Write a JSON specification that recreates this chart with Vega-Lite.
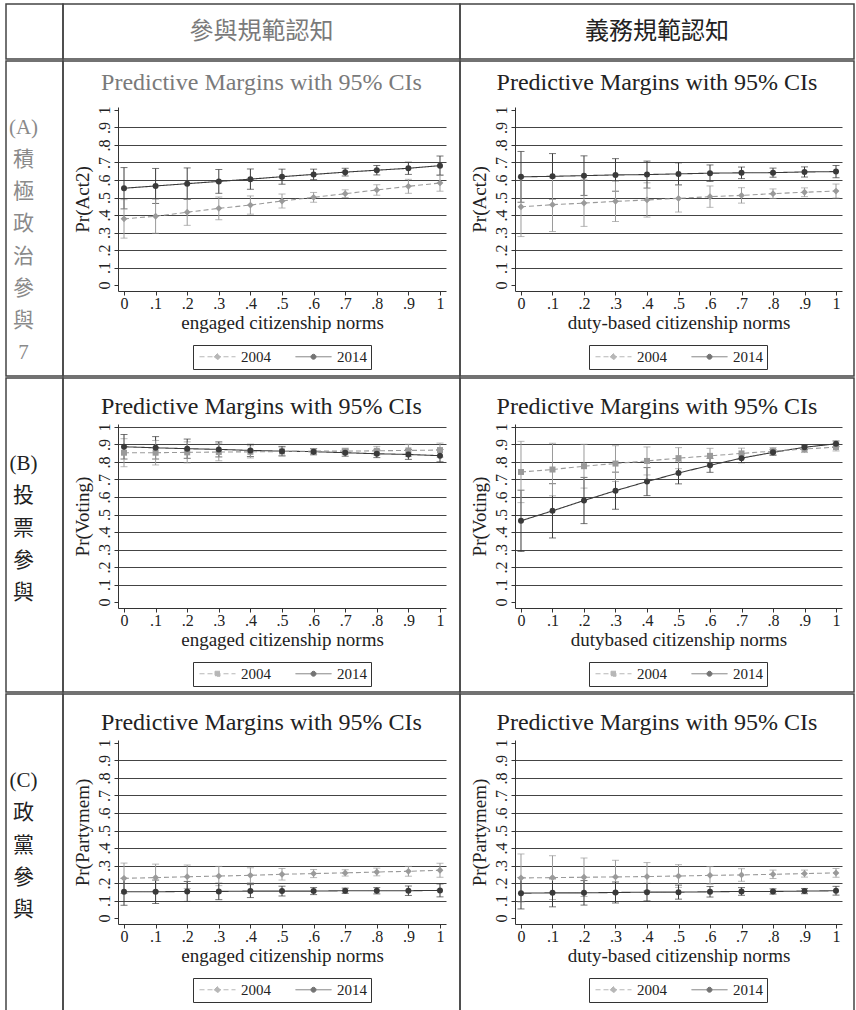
{
  "$schema": "https://vega.github.io/schema/vega-lite/v6.json",
  "padding": {"left": 5, "top": 3, "right": 0, "bottom": 0},
  "background": "white",
  "config": {
    "view": {"stroke": "#444", "strokeWidth": 1.5},
    "font": "Liberation Serif",
    "axis": {"labelFont": "Liberation Serif", "titleFont": "Liberation Serif", "labelFontSize": 16, "titleFontSize": 19, "titleFontWeight": "normal", "labelColor": "#222", "titleColor": "#222", "domainColor": "#333", "tickColor": "#333", "tickSize": 4, "gridColor": "#444", "gridWidth": 1.2, "domainWidth": 1},
    "title": {"font": "Liberation Serif", "fontSize": 24, "fontWeight": "normal", "color": "#222"}
  },
  "datasets": {
    "lab": [
      {"r": "A", "i": 0, "t": "(A)"}, {"r": "A", "i": 1, "t": "積"}, {"r": "A", "i": 2, "t": "極"}, {"r": "A", "i": 3, "t": "政"}, {"r": "A", "i": 4, "t": "治"}, {"r": "A", "i": 5, "t": "參"}, {"r": "A", "i": 6, "t": "與"}, {"r": "A", "i": 7, "t": "7"},
      {"r": "B", "i": 0, "t": "(B)"}, {"r": "B", "i": 1, "t": "投"}, {"r": "B", "i": 2, "t": "票"}, {"r": "B", "i": 3, "t": "參"}, {"r": "B", "i": 4, "t": "與"},
      {"r": "C", "i": 0, "t": "(C)"}, {"r": "C", "i": 1, "t": "政"}, {"r": "C", "i": 2, "t": "黨"}, {"r": "C", "i": 3, "t": "參"}, {"r": "C", "i": 4, "t": "與"}
    ],
    "pm": [
      {"p":"A1","y":"2014","x":0,"m":0.553,"lo":0.435,"hi":0.671},
      {"p":"A1","y":"2014","x":0.1,"m":0.566,"lo":0.466,"hi":0.666},
      {"p":"A1","y":"2014","x":0.2,"m":0.579,"lo":0.489,"hi":0.669},
      {"p":"A1","y":"2014","x":0.3,"m":0.592,"lo":0.524,"hi":0.660},
      {"p":"A1","y":"2014","x":0.4,"m":0.605,"lo":0.547,"hi":0.663},
      {"p":"A1","y":"2014","x":0.5,"m":0.619,"lo":0.576,"hi":0.662},
      {"p":"A1","y":"2014","x":0.6,"m":0.632,"lo":0.602,"hi":0.662},
      {"p":"A1","y":"2014","x":0.7,"m":0.645,"lo":0.623,"hi":0.667},
      {"p":"A1","y":"2014","x":0.8,"m":0.656,"lo":0.629,"hi":0.683},
      {"p":"A1","y":"2014","x":0.9,"m":0.667,"lo":0.632,"hi":0.702},
      {"p":"A1","y":"2014","x":1,"m":0.682,"lo":0.627,"hi":0.737},
      {"p":"A1","y":"2004","x":0,"m":0.378,"lo":0.268,"hi":0.488},
      {"p":"A1","y":"2004","x":0.1,"m":0.393,"lo":0.296,"hi":0.490},
      {"p":"A1","y":"2004","x":0.2,"m":0.416,"lo":0.341,"hi":0.491},
      {"p":"A1","y":"2004","x":0.3,"m":0.438,"lo":0.373,"hi":0.503},
      {"p":"A1","y":"2004","x":0.4,"m":0.457,"lo":0.405,"hi":0.509},
      {"p":"A1","y":"2004","x":0.5,"m":0.480,"lo":0.440,"hi":0.520},
      {"p":"A1","y":"2004","x":0.6,"m":0.501,"lo":0.473,"hi":0.529},
      {"p":"A1","y":"2004","x":0.7,"m":0.522,"lo":0.500,"hi":0.544},
      {"p":"A1","y":"2004","x":0.8,"m":0.543,"lo":0.513,"hi":0.573},
      {"p":"A1","y":"2004","x":0.9,"m":0.564,"lo":0.524,"hi":0.604},
      {"p":"A1","y":"2004","x":1,"m":0.583,"lo":0.536,"hi":0.630},
      {"p":"A2","y":"2014","x":0,"m":0.618,"lo":0.473,"hi":0.763},
      {"p":"A2","y":"2014","x":0.1,"m":0.621,"lo":0.491,"hi":0.751},
      {"p":"A2","y":"2014","x":0.2,"m":0.625,"lo":0.512,"hi":0.738},
      {"p":"A2","y":"2014","x":0.3,"m":0.629,"lo":0.536,"hi":0.722},
      {"p":"A2","y":"2014","x":0.4,"m":0.631,"lo":0.554,"hi":0.708},
      {"p":"A2","y":"2014","x":0.5,"m":0.635,"lo":0.572,"hi":0.698},
      {"p":"A2","y":"2014","x":0.6,"m":0.639,"lo":0.592,"hi":0.686},
      {"p":"A2","y":"2014","x":0.7,"m":0.641,"lo":0.608,"hi":0.674},
      {"p":"A2","y":"2014","x":0.8,"m":0.642,"lo":0.616,"hi":0.668},
      {"p":"A2","y":"2014","x":0.9,"m":0.646,"lo":0.617,"hi":0.675},
      {"p":"A2","y":"2014","x":1,"m":0.648,"lo":0.613,"hi":0.683},
      {"p":"A2","y":"2004","x":0,"m":0.447,"lo":0.277,"hi":0.617},
      {"p":"A2","y":"2004","x":0.1,"m":0.459,"lo":0.306,"hi":0.612},
      {"p":"A2","y":"2004","x":0.2,"m":0.468,"lo":0.335,"hi":0.601},
      {"p":"A2","y":"2004","x":0.3,"m":0.478,"lo":0.363,"hi":0.593},
      {"p":"A2","y":"2004","x":0.4,"m":0.486,"lo":0.388,"hi":0.584},
      {"p":"A2","y":"2004","x":0.5,"m":0.495,"lo":0.417,"hi":0.573},
      {"p":"A2","y":"2004","x":0.6,"m":0.505,"lo":0.444,"hi":0.566},
      {"p":"A2","y":"2004","x":0.7,"m":0.512,"lo":0.468,"hi":0.556},
      {"p":"A2","y":"2004","x":0.8,"m":0.522,"lo":0.495,"hi":0.549},
      {"p":"A2","y":"2004","x":0.9,"m":0.530,"lo":0.505,"hi":0.555},
      {"p":"A2","y":"2004","x":1,"m":0.537,"lo":0.497,"hi":0.577},
      {"p":"B1","y":"2014","x":0,"m":0.887,"lo":0.817,"hi":0.957},
      {"p":"B1","y":"2014","x":0.1,"m":0.881,"lo":0.817,"hi":0.945},
      {"p":"B1","y":"2014","x":0.2,"m":0.876,"lo":0.821,"hi":0.931},
      {"p":"B1","y":"2014","x":0.3,"m":0.872,"lo":0.829,"hi":0.915},
      {"p":"B1","y":"2014","x":0.4,"m":0.866,"lo":0.831,"hi":0.901},
      {"p":"B1","y":"2014","x":0.5,"m":0.862,"lo":0.835,"hi":0.889},
      {"p":"B1","y":"2014","x":0.6,"m":0.859,"lo":0.841,"hi":0.877},
      {"p":"B1","y":"2014","x":0.7,"m":0.853,"lo":0.833,"hi":0.873},
      {"p":"B1","y":"2014","x":0.8,"m":0.847,"lo":0.825,"hi":0.869},
      {"p":"B1","y":"2014","x":0.9,"m":0.843,"lo":0.815,"hi":0.871},
      {"p":"B1","y":"2014","x":1,"m":0.836,"lo":0.801,"hi":0.871},
      {"p":"B1","y":"2004","x":0,"m":0.853,"lo":0.773,"hi":0.933},
      {"p":"B1","y":"2004","x":0.1,"m":0.853,"lo":0.783,"hi":0.923},
      {"p":"B1","y":"2004","x":0.2,"m":0.855,"lo":0.795,"hi":0.915},
      {"p":"B1","y":"2004","x":0.3,"m":0.857,"lo":0.807,"hi":0.907},
      {"p":"B1","y":"2004","x":0.4,"m":0.858,"lo":0.823,"hi":0.893},
      {"p":"B1","y":"2004","x":0.5,"m":0.860,"lo":0.835,"hi":0.885},
      {"p":"B1","y":"2004","x":0.6,"m":0.862,"lo":0.847,"hi":0.877},
      {"p":"B1","y":"2004","x":0.7,"m":0.862,"lo":0.845,"hi":0.879},
      {"p":"B1","y":"2004","x":0.8,"m":0.864,"lo":0.839,"hi":0.889},
      {"p":"B1","y":"2004","x":0.9,"m":0.866,"lo":0.831,"hi":0.901},
      {"p":"B1","y":"2004","x":1,"m":0.868,"lo":0.828,"hi":0.908},
      {"p":"B2","y":"2014","x":0,"m":0.464,"lo":0.289,"hi":0.639},
      {"p":"B2","y":"2014","x":0.1,"m":0.521,"lo":0.366,"hi":0.676},
      {"p":"B2","y":"2014","x":0.2,"m":0.580,"lo":0.448,"hi":0.712},
      {"p":"B2","y":"2014","x":0.3,"m":0.636,"lo":0.530,"hi":0.742},
      {"p":"B2","y":"2014","x":0.4,"m":0.688,"lo":0.608,"hi":0.768},
      {"p":"B2","y":"2014","x":0.5,"m":0.737,"lo":0.675,"hi":0.799},
      {"p":"B2","y":"2014","x":0.6,"m":0.781,"lo":0.741,"hi":0.821},
      {"p":"B2","y":"2014","x":0.7,"m":0.822,"lo":0.796,"hi":0.848},
      {"p":"B2","y":"2014","x":0.8,"m":0.855,"lo":0.838,"hi":0.872},
      {"p":"B2","y":"2014","x":0.9,"m":0.884,"lo":0.871,"hi":0.897},
      {"p":"B2","y":"2014","x":1,"m":0.904,"lo":0.888,"hi":0.920},
      {"p":"B2","y":"2004","x":0,"m":0.743,"lo":0.568,"hi":0.918},
      {"p":"B2","y":"2004","x":0.1,"m":0.757,"lo":0.607,"hi":0.907},
      {"p":"B2","y":"2004","x":0.2,"m":0.776,"lo":0.651,"hi":0.901},
      {"p":"B2","y":"2004","x":0.3,"m":0.791,"lo":0.689,"hi":0.893},
      {"p":"B2","y":"2004","x":0.4,"m":0.806,"lo":0.726,"hi":0.886},
      {"p":"B2","y":"2004","x":0.5,"m":0.822,"lo":0.762,"hi":0.882},
      {"p":"B2","y":"2004","x":0.6,"m":0.835,"lo":0.792,"hi":0.878},
      {"p":"B2","y":"2004","x":0.7,"m":0.849,"lo":0.819,"hi":0.879},
      {"p":"B2","y":"2004","x":0.8,"m":0.862,"lo":0.842,"hi":0.882},
      {"p":"B2","y":"2004","x":0.9,"m":0.874,"lo":0.854,"hi":0.894},
      {"p":"B2","y":"2004","x":1,"m":0.885,"lo":0.863,"hi":0.907},
      {"p":"C1","y":"2004","x":0,"m":0.227,"lo":0.140,"hi":0.314},
      {"p":"C1","y":"2004","x":0.1,"m":0.231,"lo":0.154,"hi":0.308},
      {"p":"C1","y":"2004","x":0.2,"m":0.236,"lo":0.169,"hi":0.303},
      {"p":"C1","y":"2004","x":0.3,"m":0.240,"lo":0.185,"hi":0.295},
      {"p":"C1","y":"2004","x":0.4,"m":0.244,"lo":0.201,"hi":0.287},
      {"p":"C1","y":"2004","x":0.5,"m":0.250,"lo":0.217,"hi":0.283},
      {"p":"C1","y":"2004","x":0.6,"m":0.254,"lo":0.231,"hi":0.277},
      {"p":"C1","y":"2004","x":0.7,"m":0.258,"lo":0.240,"hi":0.276},
      {"p":"C1","y":"2004","x":0.8,"m":0.263,"lo":0.241,"hi":0.285},
      {"p":"C1","y":"2004","x":0.9,"m":0.267,"lo":0.239,"hi":0.295},
      {"p":"C1","y":"2004","x":1,"m":0.273,"lo":0.233,"hi":0.313},
      {"p":"C1","y":"2014","x":0,"m":0.150,"lo":0.073,"hi":0.227},
      {"p":"C1","y":"2014","x":0.1,"m":0.150,"lo":0.083,"hi":0.217},
      {"p":"C1","y":"2014","x":0.2,"m":0.152,"lo":0.095,"hi":0.209},
      {"p":"C1","y":"2014","x":0.3,"m":0.152,"lo":0.105,"hi":0.199},
      {"p":"C1","y":"2014","x":0.4,"m":0.154,"lo":0.117,"hi":0.191},
      {"p":"C1","y":"2014","x":0.5,"m":0.154,"lo":0.126,"hi":0.182},
      {"p":"C1","y":"2014","x":0.6,"m":0.154,"lo":0.134,"hi":0.174},
      {"p":"C1","y":"2014","x":0.7,"m":0.156,"lo":0.141,"hi":0.171},
      {"p":"C1","y":"2014","x":0.8,"m":0.156,"lo":0.138,"hi":0.174},
      {"p":"C1","y":"2014","x":0.9,"m":0.156,"lo":0.129,"hi":0.183},
      {"p":"C1","y":"2014","x":1,"m":0.158,"lo":0.121,"hi":0.195},
      {"p":"C2","y":"2004","x":0,"m":0.229,"lo":0.092,"hi":0.366},
      {"p":"C2","y":"2004","x":0.1,"m":0.231,"lo":0.106,"hi":0.356},
      {"p":"C2","y":"2004","x":0.2,"m":0.233,"lo":0.123,"hi":0.343},
      {"p":"C2","y":"2004","x":0.3,"m":0.235,"lo":0.140,"hi":0.330},
      {"p":"C2","y":"2004","x":0.4,"m":0.237,"lo":0.157,"hi":0.317},
      {"p":"C2","y":"2004","x":0.5,"m":0.240,"lo":0.175,"hi":0.305},
      {"p":"C2","y":"2004","x":0.6,"m":0.244,"lo":0.194,"hi":0.294},
      {"p":"C2","y":"2004","x":0.7,"m":0.246,"lo":0.210,"hi":0.282},
      {"p":"C2","y":"2004","x":0.8,"m":0.250,"lo":0.226,"hi":0.274},
      {"p":"C2","y":"2004","x":0.9,"m":0.254,"lo":0.234,"hi":0.274},
      {"p":"C2","y":"2004","x":1,"m":0.258,"lo":0.233,"hi":0.283},
      {"p":"C2","y":"2014","x":0,"m":0.142,"lo":0.052,"hi":0.232},
      {"p":"C2","y":"2014","x":0.1,"m":0.144,"lo":0.064,"hi":0.224},
      {"p":"C2","y":"2014","x":0.2,"m":0.144,"lo":0.074,"hi":0.214},
      {"p":"C2","y":"2014","x":0.3,"m":0.146,"lo":0.086,"hi":0.206},
      {"p":"C2","y":"2014","x":0.4,"m":0.148,"lo":0.098,"hi":0.198},
      {"p":"C2","y":"2014","x":0.5,"m":0.148,"lo":0.108,"hi":0.188},
      {"p":"C2","y":"2014","x":0.6,"m":0.150,"lo":0.120,"hi":0.180},
      {"p":"C2","y":"2014","x":0.7,"m":0.152,"lo":0.130,"hi":0.174},
      {"p":"C2","y":"2014","x":0.8,"m":0.152,"lo":0.137,"hi":0.167},
      {"p":"C2","y":"2014","x":0.9,"m":0.154,"lo":0.139,"hi":0.169},
      {"p":"C2","y":"2014","x":1,"m":0.156,"lo":0.131,"hi":0.181}
    ]
  },
  "spacing": 0,
  "resolve": {"scale": {"color": "independent", "stroke": "independent", "shape": "independent", "strokeDash": "independent"}, "legend": {"color": "independent", "stroke": "independent", "shape": "independent", "strokeDash": "independent"}},
  "vconcat": [
    {
      "spacing": 0, "bounds": "flush",
      "hconcat": [
        {"width": 57, "height": 55, "data": {"values": [{"t": ""}]}, "mark": {"type": "text"}, "encoding": {"y": {"datum": 0, "type": "quantitative", "scale": {"domain": [-1, 1]}, "axis": null}, "text": {"field": "t"}}},
        {"width": 397, "height": 55, "data": {"values": [{"t": "參與規範認知"}]}, "mark": {"type": "text", "font": "Noto Sans CJK TC", "fontSize": 24, "color": "#7a7a7a", "baseline": "middle"}, "encoding": {"y": {"datum": 0, "type": "quantitative", "scale": {"domain": [-1, 1]}, "axis": null}, "text": {"field": "t"}}},
        {"width": 394, "height": 55, "data": {"values": [{"t": "義務規範認知"}]}, "mark": {"type": "text", "font": "Noto Sans CJK TC", "fontSize": 24, "color": "#222", "baseline": "middle"}, "encoding": {"y": {"datum": 0, "type": "quantitative", "scale": {"domain": [-1, 1]}, "axis": null}, "text": {"field": "t"}}}
      ]
    },
    {
      "spacing": 0, "bounds": "flush",
      "resolve": {"scale": {"color": "independent", "stroke": "independent", "shape": "independent", "strokeDash": "independent"}, "legend": {"color": "independent", "stroke": "independent", "shape": "independent", "strokeDash": "independent"}},
      "hconcat": [
        {"width": 57, "height": 315, "data": {"name": "lab"}, "transform": [{"filter": "datum.r == 'A'"}],
         "mark": {"type": "text", "font": "Liberation Serif, 'Noto Sans CJK TC'", "fontSize": 21, "color": "#8a8a8a", "baseline": "middle", "dx": -11},
         "encoding": {"y": {"field": "i", "type": "quantitative", "scale": {"domain": [0, 7], "range": [67, 292], "nice": false, "zero": false}, "axis": null}, "text": {"field": "t"}}},
        {"width": 397, "height": 315, "data": {"name": "pm"}, "transform": [{"filter": "datum.p == 'A1'"}],
         "title": {"text": "Predictive Margins with 95% CIs", "offset": -34, "color": "#7a7a7a"},
         "encoding": {
           "x": {"field": "x", "type": "quantitative", "title": "engaged citizenship norms", "scale": {"domain": [-0.019, 1.019], "range": [55, 383], "nice": false, "zero": false}, "axis": {"offset": -85, "values": [0,0.1,0.2,0.3,0.4,0.5,0.6,0.7,0.8,0.9,1], "labelExpr": "datum.value == 0 ? '0' : datum.value == 1 ? '1' : '.' + round(datum.value * 10)", "grid": false, "labelPadding": 0, "titlePadding": 2, "labelAngle": 0}},
           "y": {"field": "m", "type": "quantitative", "title": "Pr(Act2)", "scale": {"domain": [-0.034, 1.017], "range": [230, 46], "nice": false, "zero": false}, "axis": {"offset": -55, "values": [0,0.1,0.2,0.3,0.4,0.5,0.6,0.7,0.8,0.9,1], "labelExpr": "datum.value == 0 ? '0' : datum.value == 1 ? '1' : '.' + round(datum.value * 10)", "labelAngle": -90, "labelAlign": "center", "labelBaseline": "bottom", "labelPadding": 2, "titlePadding": 4, "grid": true, "gridColor": {"condition": {"test": "datum.value < 0.05 || datum.value > 0.95", "value": "transparent"}, "value": "#444"}}},
           "color": {"field": "y", "type": "nominal", "scale": {"domain": ["2004", "2014"], "range": ["#9a9a9a", "#3a3a3a"]},
             "legend": {"orient": "none", "legendX": 130, "legendY": 284, "direction": "horizontal", "title": null, "strokeColor": "#333", "padding": 4, "symbolSize": 100, "symbolOffset": 13, "labelOffset": 16, "labelFont": "Liberation Serif", "labelFontSize": 15, "labelColor": "#222", "columnPadding": 22, "symbolStrokeWidth": 1}}
         },
         "layer": [
           {"mark": {"type": "errorbar", "ticks": {"size": 7}, "thickness": 1}, "encoding": {"y": {"field": "lo", "type": "quantitative", "title": "Pr(Act2)"}, "y2": {"field": "hi"}}},
           {"mark": {"type": "line", "strokeWidth": 1.1}, "encoding": {"strokeDash": {"field": "y", "type": "nominal", "scale": {"domain": ["2004", "2014"], "range": [[5, 3], [1, 0]]}, "legend": null}}},
           {"transform": [{"filter": "datum.y == '2004'"}], "mark": {"type": "point", "filled": true, "opacity": 1, "size": 46, "shape": "diamond"}},
           {"transform": [{"filter": "datum.y == '2014'"}], "mark": {"type": "point", "filled": true, "opacity": 1, "size": 36, "shape": "circle"}},
           {"transform": [{"filter": "datum.x == 0"}], "mark": {"type": "point", "filled": true, "size": 1, "opacity": 1},
            "encoding": {
              "stroke": {"field": "y", "type": "nominal", "scale": {"domain": ["2004", "2014"], "range": ["#9a9a9a", "#3a3a3a"]}, "legend": {"orient": "none", "legendX": 130, "legendY": 284, "direction": "horizontal", "title": null, "strokeColor": "#333", "padding": 4, "symbolSize": 100, "symbolOffset": 13, "labelOffset": 16, "labelFont": "Liberation Serif", "labelFontSize": 15, "labelColor": "#222", "columnPadding": 22, "symbolStrokeWidth": 1}},
              "shape": {"field": "y", "type": "nominal", "scale": {"domain": ["2004", "2014"], "range": ["M-3.6,0H3.6M-0.65,0L0,-0.65L0.65,0L0,0.65Z", "M-3.6,0H3.6M0.5,0A0.5,0.5,0,1,1,-0.5,0A0.5,0.5,0,1,1,0.5,0Z"]}, "legend": {"orient": "none", "legendX": 130, "legendY": 284, "direction": "horizontal", "title": null, "strokeColor": "#333", "padding": 4, "symbolSize": 100, "symbolOffset": 13, "labelOffset": 16, "labelFont": "Liberation Serif", "labelFontSize": 15, "labelColor": "#222", "columnPadding": 22, "symbolStrokeWidth": 1}},
              "strokeDash": {"field": "y", "type": "nominal", "scale": {"domain": ["2004", "2014"], "range": [[5, 3], [1, 0]]}, "legend": {"orient": "none", "legendX": 130, "legendY": 284, "direction": "horizontal", "title": null, "strokeColor": "#333", "padding": 4, "symbolSize": 100, "symbolOffset": 13, "labelOffset": 16, "labelFont": "Liberation Serif", "labelFontSize": 15, "labelColor": "#222", "columnPadding": 22, "symbolStrokeWidth": 1}}
            }}
         ]
        },
        {"width": 394, "height": 315, "data": {"name": "pm"}, "transform": [{"filter": "datum.p == 'A2'"}],
         "title": {"text": "Predictive Margins with 95% CIs", "offset": -34},
         "encoding": {
           "x": {"field": "x", "type": "quantitative", "title": "duty-based citizenship norms", "scale": {"domain": [-0.019, 1.019], "range": [55, 382], "nice": false, "zero": false}, "axis": {"offset": -85, "values": [0,0.1,0.2,0.3,0.4,0.5,0.6,0.7,0.8,0.9,1], "labelExpr": "datum.value == 0 ? '0' : datum.value == 1 ? '1' : '.' + round(datum.value * 10)", "grid": false, "labelPadding": 0, "titlePadding": 2, "labelAngle": 0}},
           "y": {"field": "m", "type": "quantitative", "title": "Pr(Act2)", "scale": {"domain": [-0.034, 1.017], "range": [230, 46], "nice": false, "zero": false}, "axis": {"offset": -55, "values": [0,0.1,0.2,0.3,0.4,0.5,0.6,0.7,0.8,0.9,1], "labelExpr": "datum.value == 0 ? '0' : datum.value == 1 ? '1' : '.' + round(datum.value * 10)", "labelAngle": -90, "labelAlign": "center", "labelBaseline": "bottom", "labelPadding": 2, "titlePadding": 4, "grid": true, "gridColor": {"condition": {"test": "datum.value < 0.05 || datum.value > 0.95", "value": "transparent"}, "value": "#444"}}},
           "color": {"field": "y", "type": "nominal", "scale": {"domain": ["2004", "2014"], "range": ["#9a9a9a", "#3a3a3a"]},
             "legend": {"orient": "none", "legendX": 129, "legendY": 284, "direction": "horizontal", "title": null, "strokeColor": "#333", "padding": 4, "symbolSize": 100, "symbolOffset": 13, "labelOffset": 16, "labelFont": "Liberation Serif", "labelFontSize": 15, "labelColor": "#222", "columnPadding": 22, "symbolStrokeWidth": 1}}
         },
         "layer": [
           {"mark": {"type": "errorbar", "ticks": {"size": 7}, "thickness": 1}, "encoding": {"y": {"field": "lo", "type": "quantitative", "title": "Pr(Act2)"}, "y2": {"field": "hi"}}},
           {"mark": {"type": "line", "strokeWidth": 1.1}, "encoding": {"strokeDash": {"field": "y", "type": "nominal", "scale": {"domain": ["2004", "2014"], "range": [[5, 3], [1, 0]]}, "legend": null}}},
           {"transform": [{"filter": "datum.y == '2004'"}], "mark": {"type": "point", "filled": true, "opacity": 1, "size": 46, "shape": "diamond"}},
           {"transform": [{"filter": "datum.y == '2014'"}], "mark": {"type": "point", "filled": true, "opacity": 1, "size": 36, "shape": "circle"}},
           {"transform": [{"filter": "datum.x == 0"}], "mark": {"type": "point", "filled": true, "size": 1, "opacity": 1},
            "encoding": {
              "stroke": {"field": "y", "type": "nominal", "scale": {"domain": ["2004", "2014"], "range": ["#9a9a9a", "#3a3a3a"]}, "legend": {"orient": "none", "legendX": 129, "legendY": 284, "direction": "horizontal", "title": null, "strokeColor": "#333", "padding": 4, "symbolSize": 100, "symbolOffset": 13, "labelOffset": 16, "labelFont": "Liberation Serif", "labelFontSize": 15, "labelColor": "#222", "columnPadding": 22, "symbolStrokeWidth": 1}},
              "shape": {"field": "y", "type": "nominal", "scale": {"domain": ["2004", "2014"], "range": ["M-3.6,0H3.6M-0.65,0L0,-0.65L0.65,0L0,0.65Z", "M-3.6,0H3.6M0.5,0A0.5,0.5,0,1,1,-0.5,0A0.5,0.5,0,1,1,0.5,0Z"]}, "legend": {"orient": "none", "legendX": 129, "legendY": 284, "direction": "horizontal", "title": null, "strokeColor": "#333", "padding": 4, "symbolSize": 100, "symbolOffset": 13, "labelOffset": 16, "labelFont": "Liberation Serif", "labelFontSize": 15, "labelColor": "#222", "columnPadding": 22, "symbolStrokeWidth": 1}},
              "strokeDash": {"field": "y", "type": "nominal", "scale": {"domain": ["2004", "2014"], "range": [[5, 3], [1, 0]]}, "legend": {"orient": "none", "legendX": 129, "legendY": 284, "direction": "horizontal", "title": null, "strokeColor": "#333", "padding": 4, "symbolSize": 100, "symbolOffset": 13, "labelOffset": 16, "labelFont": "Liberation Serif", "labelFontSize": 15, "labelColor": "#222", "columnPadding": 22, "symbolStrokeWidth": 1}}
            }}
         ]
        }
      ]
    },
    {
      "spacing": 0, "bounds": "flush",
      "resolve": {"scale": {"color": "independent", "stroke": "independent", "shape": "independent", "strokeDash": "independent"}, "legend": {"color": "independent", "stroke": "independent", "shape": "independent", "strokeDash": "independent"}},
      "hconcat": [
        {"width": 57, "height": 314, "data": {"name": "lab"}, "transform": [{"filter": "datum.r == 'B'"}],
         "mark": {"type": "text", "font": "Liberation Serif, 'Noto Sans CJK TC'", "fontSize": 21, "color": "#222", "baseline": "middle", "dx": -11},
         "encoding": {"y": {"field": "i", "type": "quantitative", "scale": {"domain": [0, 4], "range": [86, 215], "nice": false, "zero": false}, "axis": null}, "text": {"field": "t"}}},
        {"width": 397, "height": 314, "data": {"name": "pm"}, "transform": [{"filter": "datum.p == 'B1'"}],
         "title": {"text": "Predictive Margins with 95% CIs", "offset": -41},
         "encoding": {
           "x": {"field": "x", "type": "quantitative", "title": "engaged citizenship norms", "scale": {"domain": [-0.019, 1.019], "range": [55, 383], "nice": false, "zero": false}, "axis": {"offset": -84, "values": [0,0.1,0.2,0.3,0.4,0.5,0.6,0.7,0.8,0.9,1], "labelExpr": "datum.value == 0 ? '0' : datum.value == 1 ? '1' : '.' + round(datum.value * 10)", "grid": false, "labelPadding": 0, "titlePadding": 2, "labelAngle": 0}},
           "y": {"field": "m", "type": "quantitative", "title": "Pr(Voting)", "scale": {"domain": [-0.034, 1.017], "range": [230, 46], "nice": false, "zero": false}, "axis": {"offset": -55, "values": [0,0.1,0.2,0.3,0.4,0.5,0.6,0.7,0.8,0.9,1], "labelExpr": "datum.value == 0 ? '0' : datum.value == 1 ? '1' : '.' + round(datum.value * 10)", "labelAngle": -90, "labelAlign": "center", "labelBaseline": "bottom", "labelPadding": 2, "titlePadding": 4, "grid": true, "gridColor": {"condition": {"test": "datum.value < 0.05", "value": "transparent"}, "value": "#444"}}},
           "color": {"field": "y", "type": "nominal", "scale": {"domain": ["2004", "2014"], "range": ["#9a9a9a", "#3a3a3a"]},
             "legend": {"orient": "none", "legendX": 130, "legendY": 284, "direction": "horizontal", "title": null, "strokeColor": "#333", "padding": 4, "symbolSize": 100, "symbolOffset": 13, "labelOffset": 16, "labelFont": "Liberation Serif", "labelFontSize": 15, "labelColor": "#222", "columnPadding": 22, "symbolStrokeWidth": 1}}
         },
         "layer": [
           {"mark": {"type": "errorbar", "ticks": {"size": 7}, "thickness": 1}, "encoding": {"y": {"field": "lo", "type": "quantitative", "title": "Pr(Voting)"}, "y2": {"field": "hi"}}},
           {"mark": {"type": "line", "strokeWidth": 1.1}, "encoding": {"strokeDash": {"field": "y", "type": "nominal", "scale": {"domain": ["2004", "2014"], "range": [[5, 3], [1, 0]]}, "legend": null}}},
           {"transform": [{"filter": "datum.y == '2004'"}], "mark": {"type": "point", "filled": true, "opacity": 1, "size": 36, "shape": "square"}},
           {"transform": [{"filter": "datum.y == '2014'"}], "mark": {"type": "point", "filled": true, "opacity": 1, "size": 36, "shape": "circle"}},
           {"transform": [{"filter": "datum.x == 0"}], "mark": {"type": "point", "filled": true, "size": 1, "opacity": 1},
            "encoding": {
              "stroke": {"field": "y", "type": "nominal", "scale": {"domain": ["2004", "2014"], "range": ["#9a9a9a", "#3a3a3a"]}, "legend": {"orient": "none", "legendX": 130, "legendY": 284, "direction": "horizontal", "title": null, "strokeColor": "#333", "padding": 4, "symbolSize": 100, "symbolOffset": 13, "labelOffset": 16, "labelFont": "Liberation Serif", "labelFontSize": 15, "labelColor": "#222", "columnPadding": 22, "symbolStrokeWidth": 1}},
              "shape": {"field": "y", "type": "nominal", "scale": {"domain": ["2004", "2014"], "range": ["M-3.6,0H3.6M-0.5,-0.5H0.5V0.5H-0.5Z", "M-3.6,0H3.6M0.5,0A0.5,0.5,0,1,1,-0.5,0A0.5,0.5,0,1,1,0.5,0Z"]}, "legend": {"orient": "none", "legendX": 130, "legendY": 284, "direction": "horizontal", "title": null, "strokeColor": "#333", "padding": 4, "symbolSize": 100, "symbolOffset": 13, "labelOffset": 16, "labelFont": "Liberation Serif", "labelFontSize": 15, "labelColor": "#222", "columnPadding": 22, "symbolStrokeWidth": 1}},
              "strokeDash": {"field": "y", "type": "nominal", "scale": {"domain": ["2004", "2014"], "range": [[5, 3], [1, 0]]}, "legend": {"orient": "none", "legendX": 130, "legendY": 284, "direction": "horizontal", "title": null, "strokeColor": "#333", "padding": 4, "symbolSize": 100, "symbolOffset": 13, "labelOffset": 16, "labelFont": "Liberation Serif", "labelFontSize": 15, "labelColor": "#222", "columnPadding": 22, "symbolStrokeWidth": 1}}
            }}
         ]
        },
        {"width": 394, "height": 314, "data": {"name": "pm"}, "transform": [{"filter": "datum.p == 'B2'"}],
         "title": {"text": "Predictive Margins with 95% CIs", "offset": -41},
         "encoding": {
           "x": {"field": "x", "type": "quantitative", "title": "dutybased citizenship norms", "scale": {"domain": [-0.019, 1.019], "range": [55, 382], "nice": false, "zero": false}, "axis": {"offset": -84, "values": [0,0.1,0.2,0.3,0.4,0.5,0.6,0.7,0.8,0.9,1], "labelExpr": "datum.value == 0 ? '0' : datum.value == 1 ? '1' : '.' + round(datum.value * 10)", "grid": false, "labelPadding": 0, "titlePadding": 2, "labelAngle": 0}},
           "y": {"field": "m", "type": "quantitative", "title": "Pr(Voting)", "scale": {"domain": [-0.034, 1.017], "range": [230, 46], "nice": false, "zero": false}, "axis": {"offset": -55, "values": [0,0.1,0.2,0.3,0.4,0.5,0.6,0.7,0.8,0.9,1], "labelExpr": "datum.value == 0 ? '0' : datum.value == 1 ? '1' : '.' + round(datum.value * 10)", "labelAngle": -90, "labelAlign": "center", "labelBaseline": "bottom", "labelPadding": 2, "titlePadding": 4, "grid": true, "gridColor": {"condition": {"test": "datum.value < 0.05", "value": "transparent"}, "value": "#444"}}},
           "color": {"field": "y", "type": "nominal", "scale": {"domain": ["2004", "2014"], "range": ["#9a9a9a", "#3a3a3a"]},
             "legend": {"orient": "none", "legendX": 129, "legendY": 284, "direction": "horizontal", "title": null, "strokeColor": "#333", "padding": 4, "symbolSize": 100, "symbolOffset": 13, "labelOffset": 16, "labelFont": "Liberation Serif", "labelFontSize": 15, "labelColor": "#222", "columnPadding": 22, "symbolStrokeWidth": 1}}
         },
         "layer": [
           {"mark": {"type": "errorbar", "ticks": {"size": 7}, "thickness": 1}, "encoding": {"y": {"field": "lo", "type": "quantitative", "title": "Pr(Voting)"}, "y2": {"field": "hi"}}},
           {"mark": {"type": "line", "strokeWidth": 1.1}, "encoding": {"strokeDash": {"field": "y", "type": "nominal", "scale": {"domain": ["2004", "2014"], "range": [[5, 3], [1, 0]]}, "legend": null}}},
           {"transform": [{"filter": "datum.y == '2004'"}], "mark": {"type": "point", "filled": true, "opacity": 1, "size": 36, "shape": "square"}},
           {"transform": [{"filter": "datum.y == '2014'"}], "mark": {"type": "point", "filled": true, "opacity": 1, "size": 36, "shape": "circle"}},
           {"transform": [{"filter": "datum.x == 0"}], "mark": {"type": "point", "filled": true, "size": 1, "opacity": 1},
            "encoding": {
              "stroke": {"field": "y", "type": "nominal", "scale": {"domain": ["2004", "2014"], "range": ["#9a9a9a", "#3a3a3a"]}, "legend": {"orient": "none", "legendX": 129, "legendY": 284, "direction": "horizontal", "title": null, "strokeColor": "#333", "padding": 4, "symbolSize": 100, "symbolOffset": 13, "labelOffset": 16, "labelFont": "Liberation Serif", "labelFontSize": 15, "labelColor": "#222", "columnPadding": 22, "symbolStrokeWidth": 1}},
              "shape": {"field": "y", "type": "nominal", "scale": {"domain": ["2004", "2014"], "range": ["M-3.6,0H3.6M-0.5,-0.5H0.5V0.5H-0.5Z", "M-3.6,0H3.6M0.5,0A0.5,0.5,0,1,1,-0.5,0A0.5,0.5,0,1,1,0.5,0Z"]}, "legend": {"orient": "none", "legendX": 129, "legendY": 284, "direction": "horizontal", "title": null, "strokeColor": "#333", "padding": 4, "symbolSize": 100, "symbolOffset": 13, "labelOffset": 16, "labelFont": "Liberation Serif", "labelFontSize": 15, "labelColor": "#222", "columnPadding": 22, "symbolStrokeWidth": 1}},
              "strokeDash": {"field": "y", "type": "nominal", "scale": {"domain": ["2004", "2014"], "range": [[5, 3], [1, 0]]}, "legend": {"orient": "none", "legendX": 129, "legendY": 284, "direction": "horizontal", "title": null, "strokeColor": "#333", "padding": 4, "symbolSize": 100, "symbolOffset": 13, "labelOffset": 16, "labelFont": "Liberation Serif", "labelFontSize": 15, "labelColor": "#222", "columnPadding": 22, "symbolStrokeWidth": 1}}
            }}
         ]
        }
      ]
    },
    {
      "spacing": 0, "bounds": "flush",
      "resolve": {"scale": {"color": "independent", "stroke": "independent", "shape": "independent", "strokeDash": "independent"}, "legend": {"color": "independent", "stroke": "independent", "shape": "independent", "strokeDash": "independent"}},
      "hconcat": [
        {"width": 57, "height": 320, "data": {"name": "lab"}, "transform": [{"filter": "datum.r == 'C'"}],
         "mark": {"type": "text", "font": "Liberation Serif, 'Noto Sans CJK TC'", "fontSize": 21, "color": "#222", "baseline": "middle", "dx": -11},
         "encoding": {"y": {"field": "i", "type": "quantitative", "scale": {"domain": [0, 4], "range": [87, 216], "nice": false, "zero": false}, "axis": null}, "text": {"field": "t"}}},
        {"width": 397, "height": 320, "data": {"name": "pm"}, "transform": [{"filter": "datum.p == 'C1'"}],
         "title": {"text": "Predictive Margins with 95% CIs", "offset": -41},
         "encoding": {
           "x": {"field": "x", "type": "quantitative", "title": "engaged citizenship norms", "scale": {"domain": [-0.019, 1.019], "range": [55, 383], "nice": false, "zero": false}, "axis": {"offset": -90, "values": [0,0.1,0.2,0.3,0.4,0.5,0.6,0.7,0.8,0.9,1], "labelExpr": "datum.value == 0 ? '0' : datum.value == 1 ? '1' : '.' + round(datum.value * 10)", "grid": false, "labelPadding": 0, "titlePadding": 2, "labelAngle": 0}},
           "y": {"field": "m", "type": "quantitative", "title": "Pr(Partymem)", "scale": {"domain": [-0.034, 1.017], "range": [230, 46], "nice": false, "zero": false}, "axis": {"offset": -55, "values": [0,0.1,0.2,0.3,0.4,0.5,0.6,0.7,0.8,0.9,1], "labelExpr": "datum.value == 0 ? '0' : datum.value == 1 ? '1' : '.' + round(datum.value * 10)", "labelAngle": -90, "labelAlign": "center", "labelBaseline": "bottom", "labelPadding": 2, "titlePadding": 4, "grid": true, "gridColor": {"condition": {"test": "datum.value < 0.05 || datum.value > 0.95", "value": "transparent"}, "value": "#444"}}},
           "color": {"field": "y", "type": "nominal", "scale": {"domain": ["2004", "2014"], "range": ["#9a9a9a", "#3a3a3a"]},
             "legend": {"orient": "none", "legendX": 130, "legendY": 284, "direction": "horizontal", "title": null, "strokeColor": "#333", "padding": 4, "symbolSize": 100, "symbolOffset": 13, "labelOffset": 16, "labelFont": "Liberation Serif", "labelFontSize": 15, "labelColor": "#222", "columnPadding": 22, "symbolStrokeWidth": 1}}
         },
         "layer": [
           {"mark": {"type": "errorbar", "ticks": {"size": 7}, "thickness": 1}, "encoding": {"y": {"field": "lo", "type": "quantitative", "title": "Pr(Partymem)"}, "y2": {"field": "hi"}}},
           {"mark": {"type": "line", "strokeWidth": 1.1}, "encoding": {"strokeDash": {"field": "y", "type": "nominal", "scale": {"domain": ["2004", "2014"], "range": [[5, 3], [1, 0]]}, "legend": null}}},
           {"transform": [{"filter": "datum.y == '2004'"}], "mark": {"type": "point", "filled": true, "opacity": 1, "size": 46, "shape": "diamond"}},
           {"transform": [{"filter": "datum.y == '2014'"}], "mark": {"type": "point", "filled": true, "opacity": 1, "size": 36, "shape": "circle"}},
           {"transform": [{"filter": "datum.x == 0"}], "mark": {"type": "point", "filled": true, "size": 1, "opacity": 1},
            "encoding": {
              "stroke": {"field": "y", "type": "nominal", "scale": {"domain": ["2004", "2014"], "range": ["#9a9a9a", "#3a3a3a"]}, "legend": {"orient": "none", "legendX": 130, "legendY": 284, "direction": "horizontal", "title": null, "strokeColor": "#333", "padding": 4, "symbolSize": 100, "symbolOffset": 13, "labelOffset": 16, "labelFont": "Liberation Serif", "labelFontSize": 15, "labelColor": "#222", "columnPadding": 22, "symbolStrokeWidth": 1}},
              "shape": {"field": "y", "type": "nominal", "scale": {"domain": ["2004", "2014"], "range": ["M-3.6,0H3.6M-0.65,0L0,-0.65L0.65,0L0,0.65Z", "M-3.6,0H3.6M0.5,0A0.5,0.5,0,1,1,-0.5,0A0.5,0.5,0,1,1,0.5,0Z"]}, "legend": {"orient": "none", "legendX": 130, "legendY": 284, "direction": "horizontal", "title": null, "strokeColor": "#333", "padding": 4, "symbolSize": 100, "symbolOffset": 13, "labelOffset": 16, "labelFont": "Liberation Serif", "labelFontSize": 15, "labelColor": "#222", "columnPadding": 22, "symbolStrokeWidth": 1}},
              "strokeDash": {"field": "y", "type": "nominal", "scale": {"domain": ["2004", "2014"], "range": [[5, 3], [1, 0]]}, "legend": {"orient": "none", "legendX": 130, "legendY": 284, "direction": "horizontal", "title": null, "strokeColor": "#333", "padding": 4, "symbolSize": 100, "symbolOffset": 13, "labelOffset": 16, "labelFont": "Liberation Serif", "labelFontSize": 15, "labelColor": "#222", "columnPadding": 22, "symbolStrokeWidth": 1}}
            }}
         ]
        },
        {"width": 394, "height": 320, "data": {"name": "pm"}, "transform": [{"filter": "datum.p == 'C2'"}],
         "title": {"text": "Predictive Margins with 95% CIs", "offset": -41},
         "encoding": {
           "x": {"field": "x", "type": "quantitative", "title": "duty-based citizenship norms", "scale": {"domain": [-0.019, 1.019], "range": [55, 382], "nice": false, "zero": false}, "axis": {"offset": -90, "values": [0,0.1,0.2,0.3,0.4,0.5,0.6,0.7,0.8,0.9,1], "labelExpr": "datum.value == 0 ? '0' : datum.value == 1 ? '1' : '.' + round(datum.value * 10)", "grid": false, "labelPadding": 0, "titlePadding": 2, "labelAngle": 0}},
           "y": {"field": "m", "type": "quantitative", "title": "Pr(Partymem)", "scale": {"domain": [-0.034, 1.017], "range": [230, 46], "nice": false, "zero": false}, "axis": {"offset": -55, "values": [0,0.1,0.2,0.3,0.4,0.5,0.6,0.7,0.8,0.9,1], "labelExpr": "datum.value == 0 ? '0' : datum.value == 1 ? '1' : '.' + round(datum.value * 10)", "labelAngle": -90, "labelAlign": "center", "labelBaseline": "bottom", "labelPadding": 2, "titlePadding": 4, "grid": true, "gridColor": {"condition": {"test": "datum.value < 0.05 || datum.value > 0.95", "value": "transparent"}, "value": "#444"}}},
           "color": {"field": "y", "type": "nominal", "scale": {"domain": ["2004", "2014"], "range": ["#9a9a9a", "#3a3a3a"]},
             "legend": {"orient": "none", "legendX": 129, "legendY": 284, "direction": "horizontal", "title": null, "strokeColor": "#333", "padding": 4, "symbolSize": 100, "symbolOffset": 13, "labelOffset": 16, "labelFont": "Liberation Serif", "labelFontSize": 15, "labelColor": "#222", "columnPadding": 22, "symbolStrokeWidth": 1}}
         },
         "layer": [
           {"mark": {"type": "errorbar", "ticks": {"size": 7}, "thickness": 1}, "encoding": {"y": {"field": "lo", "type": "quantitative", "title": "Pr(Partymem)"}, "y2": {"field": "hi"}}},
           {"mark": {"type": "line", "strokeWidth": 1.1}, "encoding": {"strokeDash": {"field": "y", "type": "nominal", "scale": {"domain": ["2004", "2014"], "range": [[5, 3], [1, 0]]}, "legend": null}}},
           {"transform": [{"filter": "datum.y == '2004'"}], "mark": {"type": "point", "filled": true, "opacity": 1, "size": 46, "shape": "diamond"}},
           {"transform": [{"filter": "datum.y == '2014'"}], "mark": {"type": "point", "filled": true, "opacity": 1, "size": 36, "shape": "circle"}},
           {"transform": [{"filter": "datum.x == 0"}], "mark": {"type": "point", "filled": true, "size": 1, "opacity": 1},
            "encoding": {
              "stroke": {"field": "y", "type": "nominal", "scale": {"domain": ["2004", "2014"], "range": ["#9a9a9a", "#3a3a3a"]}, "legend": {"orient": "none", "legendX": 129, "legendY": 284, "direction": "horizontal", "title": null, "strokeColor": "#333", "padding": 4, "symbolSize": 100, "symbolOffset": 13, "labelOffset": 16, "labelFont": "Liberation Serif", "labelFontSize": 15, "labelColor": "#222", "columnPadding": 22, "symbolStrokeWidth": 1}},
              "shape": {"field": "y", "type": "nominal", "scale": {"domain": ["2004", "2014"], "range": ["M-3.6,0H3.6M-0.65,0L0,-0.65L0.65,0L0,0.65Z", "M-3.6,0H3.6M0.5,0A0.5,0.5,0,1,1,-0.5,0A0.5,0.5,0,1,1,0.5,0Z"]}, "legend": {"orient": "none", "legendX": 129, "legendY": 284, "direction": "horizontal", "title": null, "strokeColor": "#333", "padding": 4, "symbolSize": 100, "symbolOffset": 13, "labelOffset": 16, "labelFont": "Liberation Serif", "labelFontSize": 15, "labelColor": "#222", "columnPadding": 22, "symbolStrokeWidth": 1}},
              "strokeDash": {"field": "y", "type": "nominal", "scale": {"domain": ["2004", "2014"], "range": [[5, 3], [1, 0]]}, "legend": {"orient": "none", "legendX": 129, "legendY": 284, "direction": "horizontal", "title": null, "strokeColor": "#333", "padding": 4, "symbolSize": 100, "symbolOffset": 13, "labelOffset": 16, "labelFont": "Liberation Serif", "labelFontSize": 15, "labelColor": "#222", "columnPadding": 22, "symbolStrokeWidth": 1}}
            }}
         ]
        }
      ]
    }
  ]
}
